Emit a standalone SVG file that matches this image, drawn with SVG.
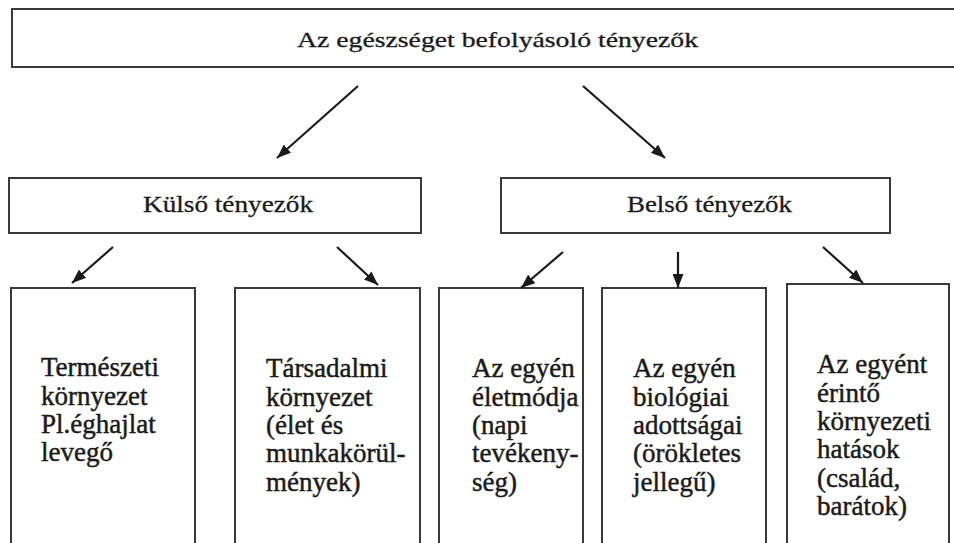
<svg xmlns="http://www.w3.org/2000/svg" width="954" height="543" viewBox="0 0 954 543">
  <defs>
    <marker id="arrow" markerUnits="userSpaceOnUse" markerWidth="15" markerHeight="11" refX="14" refY="5.5" orient="auto">
      <path d="M0,0 L14,5.5 L0,11 z" fill="#1a1a1a"/>
    </marker>
    <style>
      .box { fill: #ffffff; stroke: #3a3a3a; stroke-width: 2; }
      .head { font-family: "Liberation Serif", "Times New Roman", serif; fill: #1a1a1a; stroke: #1a1a1a; stroke-width: 0.3; }
      .body { font-family: "Liberation Serif", "Times New Roman", serif; font-size: 27px; fill: #1a1a1a; stroke: #1a1a1a; stroke-width: 0.45; }
      .conn { stroke: #1a1a1a; stroke-width: 2.2; fill: none; marker-end: url(#arrow); }
    </style>
  </defs>

  <rect width="954" height="543" fill="#ffffff"/>

  <!-- top level -->
  <g id="root">
    <rect class="box" x="12" y="9" width="950" height="58"/>
    <text class="head" x="297" y="47" font-size="22" textLength="401" lengthAdjust="spacingAndGlyphs">Az egészséget befolyásoló tényezők</text>
  </g>

  <!-- second level -->
  <g id="kulso">
    <rect class="box" x="9" y="178" width="412" height="55"/>
    <text class="head" x="143" y="212" font-size="24" textLength="170" lengthAdjust="spacingAndGlyphs">Külső tényezők</text>
  </g>
  <g id="belso">
    <rect class="box" x="501" y="178" width="389" height="55"/>
    <text class="head" x="627" y="212" font-size="24" textLength="165" lengthAdjust="spacingAndGlyphs">Belső tényezők</text>
  </g>

  <!-- third level -->
  <g id="termeszeti">
    <rect class="box" x="11" y="288" width="184" height="270"/>
    <text class="body">
      <tspan x="41" y="376">Természeti</tspan>
      <tspan x="41" y="404.5">környezet</tspan>
      <tspan x="41" y="433">Pl.éghajlat</tspan>
      <tspan x="41" y="461">levegő</tspan>
    </text>
  </g>
  <g id="tarsadalmi">
    <rect class="box" x="235" y="288" width="185" height="270"/>
    <text class="body">
      <tspan x="266" y="377">Társadalmi</tspan>
      <tspan x="266" y="405.5">környezet</tspan>
      <tspan x="266" y="434">(élet és</tspan>
      <tspan x="266" y="462">munkakörül-</tspan>
      <tspan x="266" y="490.5">mények)</tspan>
    </text>
  </g>
  <g id="eletmod">
    <rect class="box" x="439" y="288" width="144" height="270"/>
    <text class="body">
      <tspan x="472" y="377">Az egyén</tspan>
      <tspan x="472" y="405.5">életmódja</tspan>
      <tspan x="472" y="434">(napi</tspan>
      <tspan x="472" y="462">tevékeny-</tspan>
      <tspan x="472" y="490.5">ség)</tspan>
    </text>
  </g>
  <g id="biologiai">
    <rect class="box" x="602" y="288" width="164" height="270"/>
    <text class="body">
      <tspan x="633" y="377">Az egyén</tspan>
      <tspan x="633" y="405.5">biológiai</tspan>
      <tspan x="633" y="434">adottságai</tspan>
      <tspan x="633" y="462">(örökletes</tspan>
      <tspan x="633" y="490.5">jellegű)</tspan>
    </text>
  </g>
  <g id="kornyezeti">
    <rect class="box" x="787" y="284" width="162" height="274"/>
    <text class="body">
      <tspan x="817" y="373">Az egyént</tspan>
      <tspan x="817" y="401.5">érintő</tspan>
      <tspan x="817" y="430">környezeti</tspan>
      <tspan x="817" y="458">hatások</tspan>
      <tspan x="817" y="486.5">(család,</tspan>
      <tspan x="817" y="515">barátok)</tspan>
    </text>
  </g>

  <!-- connectors -->
  <g id="connectors">
    <line class="conn" x1="358" y1="86" x2="277" y2="158"/>
    <line class="conn" x1="583" y1="86" x2="665" y2="158"/>
    <line class="conn" x1="113" y1="247" x2="72" y2="283"/>
    <line class="conn" x1="337" y1="247" x2="378" y2="285"/>
    <line class="conn" x1="563" y1="252" x2="521" y2="288"/>
    <line class="conn" x1="678" y1="252" x2="678" y2="288"/>
    <line class="conn" x1="823" y1="247" x2="863" y2="283"/>
  </g>
</svg>
